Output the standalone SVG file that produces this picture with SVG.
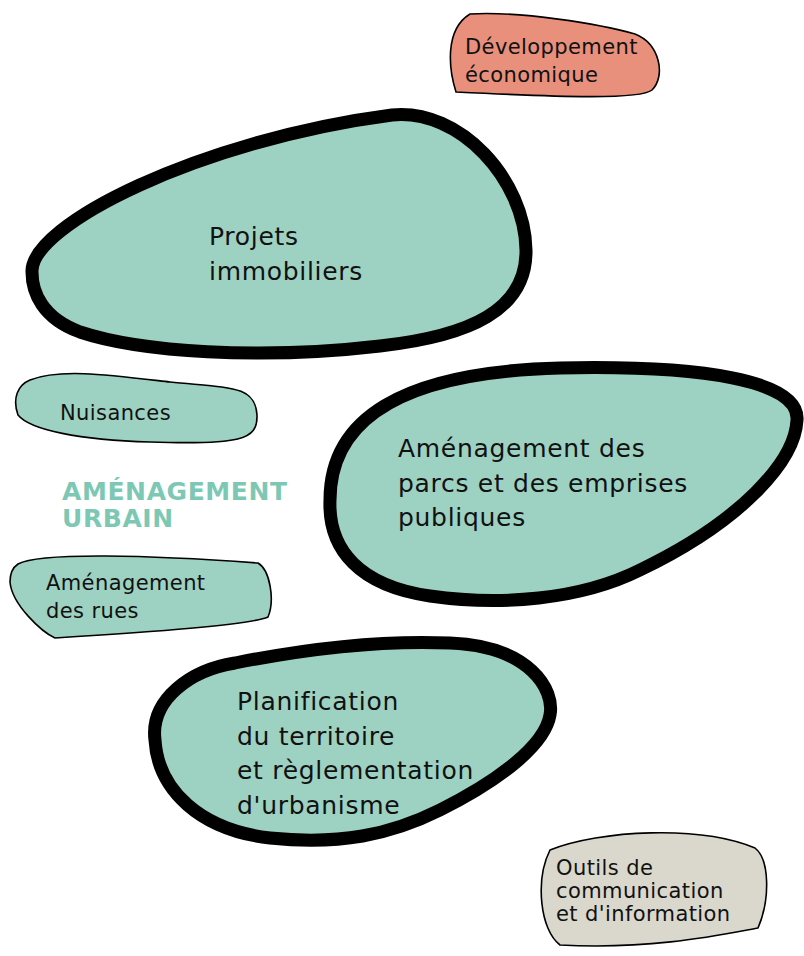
<svg xmlns="http://www.w3.org/2000/svg" width="804" height="956" viewBox="0 0 804 956">
  <style>
    .big { fill: #9dd1c2; stroke: #000; stroke-width: 13; stroke-linejoin: round; }
    .small { stroke: #000; stroke-width: 1.6; stroke-linejoin: round; }
    .teal { fill: #9dd1c2; }
    .salmon { fill: #e8907c; }
    .grey { fill: #dad8cc; }
    .lbl { font-family: "DejaVu Sans", "Liberation Sans", sans-serif; fill: #111; }
    .lg { font-size: 25px; letter-spacing: 0.7px; }
    .sm { font-size: 21px; letter-spacing: 0.4px; }
    .title { font-family: "DejaVu Sans", "Liberation Sans", sans-serif; font-weight: bold; font-size: 25px; letter-spacing: 0.6px; fill: #7dc8b5; }
  </style>

  <g id="connectors"></g>

  <g id="developpement-economique">
    <path class="small salmon" d="M 470 14 C 520 11, 600 24, 635 34 C 660 44, 666 76, 652 90 C 640 100, 560 97, 456 92 C 449 70, 444 30, 470 14 Z"/>
    <text class="lbl sm" x="465" y="54">Développement</text>
    <text class="lbl sm" x="465" y="82">économique</text>
  </g>

  <g id="projets-immobiliers">
    <path class="big" d="M 32 272 C 30 225, 200 140, 392 115 C 460 108, 525 180, 526 250 C 527 310, 470 336, 380 346 C 260 360, 140 352, 80 332 C 42 318, 32 292, 32 272 Z"/>
    <text class="lbl lg" x="209" y="245">Projets</text>
    <text class="lbl lg" x="209" y="280">immobiliers</text>
  </g>

  <g id="nuisances">
    <path class="small teal" d="M 30 380 C 60 368, 110 375, 170 382 C 230 388, 255 385, 257 415 C 258 440, 240 445, 150 442 C 80 440, 30 430, 18 415 C 12 398, 18 385, 30 380 Z"/>
    <text class="lbl sm" x="60" y="420">Nuisances</text>
  </g>

  <g id="titre">
    <text class="title" x="62" y="500">AMÉNAGEMENT</text>
    <text class="title" x="62" y="527">URBAIN</text>
  </g>

  <g id="amenagement-parcs">
    <path class="big" d="M 330 500 C 330 420, 400 372, 560 368 C 700 365, 800 380, 797 420 C 795 462, 740 522, 640 570 C 580 600, 500 606, 430 596 C 360 586, 328 550, 330 500 Z"/>
    <text class="lbl lg" x="398" y="457">Aménagement des</text>
    <text class="lbl lg" x="398" y="492">parcs et des emprises</text>
    <text class="lbl lg" x="398" y="526">publiques</text>
  </g>

  <g id="amenagement-rues">
    <path class="small teal" d="M 18 564 C 40 552, 150 555, 258 563 C 270 570, 275 600, 268 617 C 250 625, 150 632, 55 638 C 42 632, 12 605, 10 582 C 10 574, 12 568, 18 564 Z"/>
    <text class="lbl sm" x="46" y="590">Aménagement</text>
    <text class="lbl sm" x="46" y="618">des rues</text>
  </g>

  <g id="planification">
    <path class="big" d="M 155 740 C 150 700, 190 670, 235 663 C 300 650, 380 640, 450 643 C 530 646, 555 690, 550 715 C 545 745, 500 780, 440 810 C 390 835, 340 845, 270 838 C 200 830, 158 790, 155 740 Z"/>
    <text class="lbl lg" x="237" y="710">Planification</text>
    <text class="lbl lg" x="237" y="745">du territoire</text>
    <text class="lbl lg" x="237" y="779">et règlementation</text>
    <text class="lbl lg" x="237" y="814">d'urbanisme</text>
  </g>

  <g id="outils-communication">
    <path class="small grey" d="M 550 850 C 600 830, 700 825, 755 848 C 770 860, 770 900, 758 928 C 720 935, 650 950, 560 945 C 540 930, 535 880, 550 850 Z"/>
    <text class="lbl sm" x="556" y="875">Outils de</text>
    <text class="lbl sm" x="556" y="898">communication</text>
    <text class="lbl sm" x="556" y="921">et d'information</text>
  </g>
</svg>
